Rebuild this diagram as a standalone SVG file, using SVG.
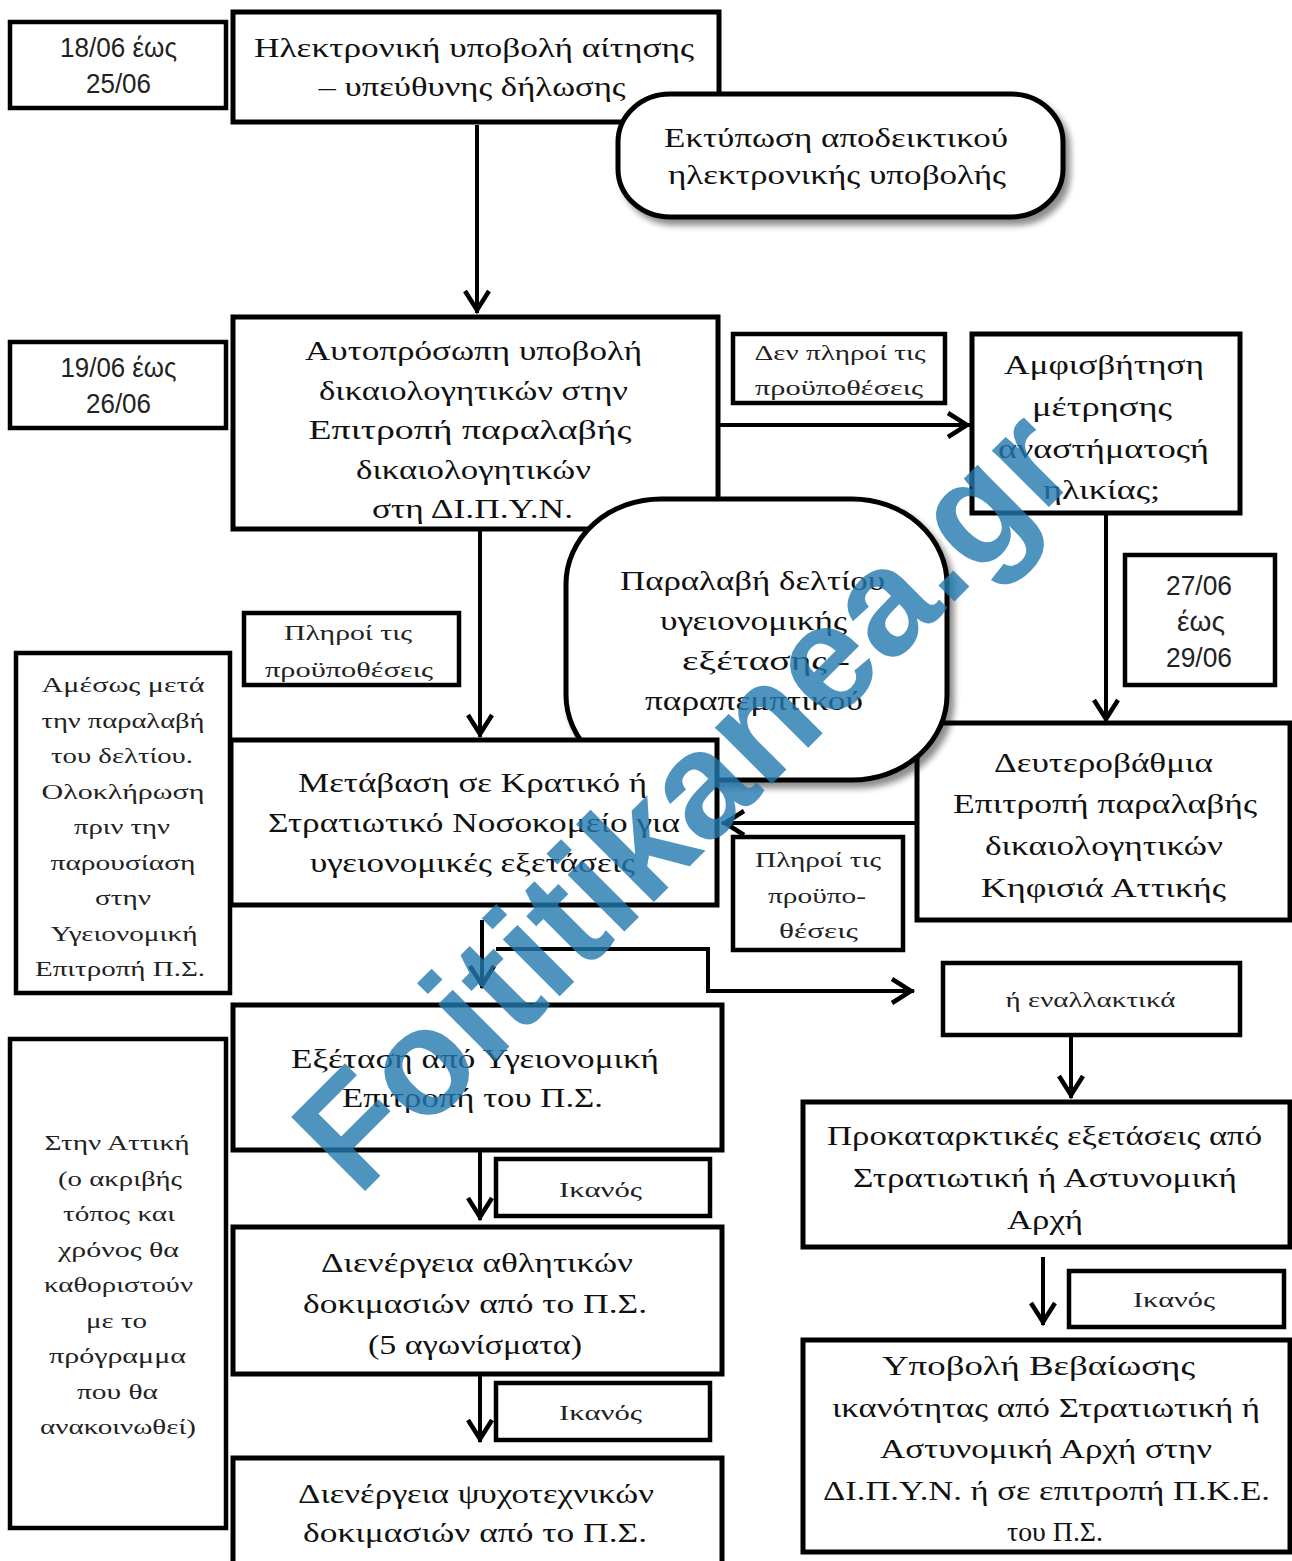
<svg xmlns="http://www.w3.org/2000/svg" width="1292" height="1561" viewBox="0 0 1292 1561">
<defs>
<style>
.box{fill:#fff;stroke:#000;stroke-width:5}
.lbl{fill:#fff;stroke:#000;stroke-width:4.5}
.round{fill:#fff;stroke:#000;stroke-width:5;filter:url(#sh)}
.t{font-family:'Liberation Serif',serif;font-size:28px;text-anchor:middle;fill:#111}
.s{font-family:'Liberation Serif',serif;font-size:22px;text-anchor:middle;fill:#222}
.d{font-family:'Liberation Sans',sans-serif;font-size:27px;text-anchor:middle;fill:#222}
.c{fill:none;stroke:#000;stroke-width:4;marker-end:url(#ah)}
</style>
<filter id="sh" x="-10%" y="-10%" width="130%" height="130%">
<feGaussianBlur in="SourceAlpha" stdDeviation="3"/>
<feOffset dx="5" dy="6" result="o"/>
<feComponentTransfer><feFuncA type="linear" slope="0.45"/></feComponentTransfer>
<feMerge><feMergeNode/><feMergeNode in="SourceGraphic"/></feMerge>
</filter>
<marker id="ah" markerUnits="userSpaceOnUse" markerWidth="30" markerHeight="30" viewBox="-26 -15 30 30" refX="0" refY="0" orient="auto" overflow="visible">
<path d="M-22,-12 L-3,0 L-22,12" fill="none" stroke="#000" stroke-width="4.5"/>
</marker>
</defs>
<rect width="1292" height="1561" fill="#fff"/>

<g id="connectors">
<path class="c" d="M477,125 V313"/>
<path class="c" d="M718,425 H970"/>
<path class="c" d="M1106,513 V722"/>
<path class="c" d="M480,529 V737"/>
<path class="c" d="M916,823 H722"/>
<path class="c" d="M482,920 V988"/>
<path class="c" d="M496,949 H708 V991 H914"/>
<path class="c" d="M1071,1035 V1098"/>
<path class="c" d="M480,1150 V1220"/>
<path class="c" d="M1043,1257 V1325"/>
<path class="c" d="M480,1374 V1442"/>
</g>

<g id="date1">
<rect class="lbl" x="10" y="22" width="216" height="86"/>
<text class="d" x="118.5" y="57" textLength="117" lengthAdjust="spacingAndGlyphs">18/06 έως</text>
<text class="d" x="118.5" y="93" textLength="65" lengthAdjust="spacingAndGlyphs">25/06</text>
</g>
<g id="n-ilektroniki">
<rect class="box" x="233" y="12" width="486" height="110"/>
<text class="t" x="474" y="57" textLength="440" lengthAdjust="spacingAndGlyphs">Ηλεκτρονική υποβολή αίτησης</text>
<text class="t" x="472" y="96" textLength="307" lengthAdjust="spacingAndGlyphs">– υπεύθυνης δήλωσης</text>
</g>
<g id="n-ektyposi">
<rect class="round" x="618" y="94" width="445" height="123" rx="52" ry="48"/>
<text class="t" x="836" y="147" textLength="344" lengthAdjust="spacingAndGlyphs">Εκτύπωση αποδεικτικού</text>
<text class="t" x="837" y="184" textLength="338" lengthAdjust="spacingAndGlyphs">ηλεκτρονικής υποβολής</text>
</g>

<g id="date2">
<rect class="lbl" x="10" y="342" width="216" height="86"/>
<text class="d" x="118.5" y="377" textLength="116" lengthAdjust="spacingAndGlyphs">19/06 έως</text>
<text class="d" x="118.5" y="413" textLength="65" lengthAdjust="spacingAndGlyphs">26/06</text>
</g>
<g id="n-autoprosopi">
<rect class="box" x="233" y="317" width="485" height="212"/>
<text class="t" x="473.5" y="360" textLength="337" lengthAdjust="spacingAndGlyphs">Αυτοπρόσωπη υποβολή</text>
<text class="t" x="473.5" y="400" textLength="309" lengthAdjust="spacingAndGlyphs">δικαιολογητικών στην</text>
<text class="t" x="470" y="439" textLength="323" lengthAdjust="spacingAndGlyphs">Επιτροπή παραλαβής</text>
<text class="t" x="473.5" y="479" textLength="235" lengthAdjust="spacingAndGlyphs">δικαιολογητικών</text>
<text class="t" x="472.5" y="518" textLength="201" lengthAdjust="spacingAndGlyphs">στη ΔΙ.Π.Υ.Ν.</text>
</g>
<g id="l-den-pliroi">
<rect class="lbl" x="733" y="334" width="212" height="69"/>
<text class="s" x="840" y="360" textLength="171" lengthAdjust="spacingAndGlyphs">Δεν πληροί τις</text>
<text class="s" x="839" y="395" textLength="168" lengthAdjust="spacingAndGlyphs">προϋποθέσεις</text>
</g>
<g id="n-amfisvitisi">
<rect class="box" x="972" y="334" width="268" height="179"/>
<text class="t" x="1104" y="374" textLength="200" lengthAdjust="spacingAndGlyphs">Αμφισβήτηση</text>
<text class="t" x="1102" y="416" textLength="140" lengthAdjust="spacingAndGlyphs">μέτρησης</text>
<text class="t" x="1103.5" y="458" textLength="211" lengthAdjust="spacingAndGlyphs">αναστήματοςή</text>
<text class="t" x="1101.5" y="499" textLength="117" lengthAdjust="spacingAndGlyphs">ηλικίας;</text>
</g>
<g id="date3">
<rect class="lbl" x="1125" y="555" width="150" height="130"/>
<text class="d" x="1199" y="595" textLength="66" lengthAdjust="spacingAndGlyphs">27/06</text>
<text class="d" x="1201" y="631" textLength="48" lengthAdjust="spacingAndGlyphs">έως</text>
<text class="d" x="1199" y="667" textLength="66" lengthAdjust="spacingAndGlyphs">29/06</text>
</g>
<g id="n-defterovathmia">
<rect class="box" x="917" y="723" width="373" height="197"/>
<text class="t" x="1103.5" y="772" textLength="219" lengthAdjust="spacingAndGlyphs">Δευτεροβάθμια</text>
<text class="t" x="1105" y="813" textLength="304" lengthAdjust="spacingAndGlyphs">Επιτροπή παραλαβής</text>
<text class="t" x="1104" y="855" textLength="238" lengthAdjust="spacingAndGlyphs">δικαιολογητικών</text>
<text class="t" x="1103.5" y="897" textLength="245" lengthAdjust="spacingAndGlyphs">Κηφισιά Αττικής</text>
</g>
<g id="n-paralavi">
<rect class="round" x="566" y="499" width="381" height="281" rx="95" ry="85"/>
<text class="t" x="752.5" y="590" textLength="265" lengthAdjust="spacingAndGlyphs">Παραλαβή δελτίου</text>
<text class="t" x="753.5" y="630" textLength="187" lengthAdjust="spacingAndGlyphs">υγειονομικής</text>
<text class="t" x="766" y="670" textLength="168" lengthAdjust="spacingAndGlyphs">εξέτασης -</text>
<text class="t" x="754" y="710" textLength="218" lengthAdjust="spacingAndGlyphs">παραπεμπτικού</text>
</g>
<g id="l-pliroi-1">
<rect class="lbl" x="244" y="613" width="215" height="72"/>
<text class="s" x="348" y="640" textLength="128" lengthAdjust="spacingAndGlyphs">Πληροί τις</text>
<text class="s" x="349" y="677" textLength="168" lengthAdjust="spacingAndGlyphs">προϋποθέσεις</text>
</g>
<g id="n-amesos">
<rect class="lbl" x="16" y="653" width="214" height="340"/>
<text class="s" x="123" y="692" textLength="163" lengthAdjust="spacingAndGlyphs">Αμέσως μετά</text>
<text class="s" x="123" y="728" textLength="163" lengthAdjust="spacingAndGlyphs">την παραλαβή</text>
<text class="s" x="122" y="763" textLength="142" lengthAdjust="spacingAndGlyphs">του δελτίου.</text>
<text class="s" x="123" y="799" textLength="163" lengthAdjust="spacingAndGlyphs">Ολοκλήρωση</text>
<text class="s" x="122" y="834" textLength="96" lengthAdjust="spacingAndGlyphs">πριν την</text>
<text class="s" x="123" y="870" textLength="145" lengthAdjust="spacingAndGlyphs">παρουσίαση</text>
<text class="s" x="123" y="905" textLength="56" lengthAdjust="spacingAndGlyphs">στην</text>
<text class="s" x="124" y="941" textLength="147" lengthAdjust="spacingAndGlyphs">Υγειονομική</text>
<text class="s" x="120" y="976" textLength="170" lengthAdjust="spacingAndGlyphs">Επιτροπή Π.Σ.</text>
</g>
<g id="n-metavasi">
<rect class="box" x="231" y="740" width="486" height="165"/>
<text class="t" x="472.5" y="792" textLength="349" lengthAdjust="spacingAndGlyphs">Μετάβαση σε Κρατικό ή</text>
<text class="t" x="474" y="832" textLength="412" lengthAdjust="spacingAndGlyphs">Στρατιωτικό Νοσοκομείο για</text>
<text class="t" x="472.5" y="872" textLength="325" lengthAdjust="spacingAndGlyphs">υγειονομικές εξετάσεις</text>
</g>
<g id="l-pliroi-2">
<rect class="lbl" x="733" y="837" width="170" height="113"/>
<text class="s" x="818" y="867" textLength="126" lengthAdjust="spacingAndGlyphs">Πληροί τις</text>
<text class="s" x="817" y="903" textLength="98" lengthAdjust="spacingAndGlyphs">προϋπο-</text>
<text class="s" x="818.5" y="938" textLength="79" lengthAdjust="spacingAndGlyphs">θέσεις</text>
</g>
<g id="l-enallaktika">
<rect class="lbl" x="943" y="963" width="297" height="72"/>
<text class="s" x="1090.5" y="1007" textLength="170" lengthAdjust="spacingAndGlyphs">ή εναλλακτικά</text>
</g>
<g id="n-prokatarktikes">
<rect class="box" x="803" y="1102" width="487" height="145"/>
<text class="t" x="1044.5" y="1145" textLength="435" lengthAdjust="spacingAndGlyphs">Προκαταρκτικές εξετάσεις από</text>
<text class="t" x="1045" y="1187" textLength="384" lengthAdjust="spacingAndGlyphs">Στρατιωτική ή Αστυνομική</text>
<text class="t" x="1045" y="1229" textLength="76" lengthAdjust="spacingAndGlyphs">Αρχή</text>
</g>
<g id="l-ikanos-3">
<rect class="lbl" x="1069" y="1271" width="215" height="56"/>
<text class="s" x="1174" y="1307" textLength="82" lengthAdjust="spacingAndGlyphs">Ικανός</text>
</g>
<g id="n-ypovoli">
<rect class="box" x="803" y="1340" width="487" height="212"/>
<text class="t" x="1038.5" y="1375" textLength="313" lengthAdjust="spacingAndGlyphs">Υποβολή Βεβαίωσης</text>
<text class="t" x="1046" y="1417" textLength="428" lengthAdjust="spacingAndGlyphs">ικανότητας από Στρατιωτική ή</text>
<text class="t" x="1046" y="1458" textLength="332" lengthAdjust="spacingAndGlyphs">Αστυνομική Αρχή στην</text>
<text class="t" x="1046.5" y="1500" textLength="447" lengthAdjust="spacingAndGlyphs">ΔΙ.Π.Υ.Ν. ή σε επιτροπή Π.Κ.Ε.</text>
<text class="t" x="1055" y="1541" textLength="96" lengthAdjust="spacingAndGlyphs">του Π.Σ.</text>
</g>
<g id="n-attiki">
<rect class="lbl" x="10" y="1039" width="216" height="489"/>
<text class="s" x="117" y="1150" textLength="145" lengthAdjust="spacingAndGlyphs">Στην Αττική</text>
<text class="s" x="120" y="1186" textLength="124" lengthAdjust="spacingAndGlyphs">(ο ακριβής</text>
<text class="s" x="119" y="1221" textLength="112" lengthAdjust="spacingAndGlyphs">τόπος και</text>
<text class="s" x="118.5" y="1257" textLength="121" lengthAdjust="spacingAndGlyphs">χρόνος θα</text>
<text class="s" x="118.5" y="1292" textLength="149" lengthAdjust="spacingAndGlyphs">καθοριστούν</text>
<text class="s" x="116.5" y="1328" textLength="61" lengthAdjust="spacingAndGlyphs">με το</text>
<text class="s" x="117.5" y="1363" textLength="137" lengthAdjust="spacingAndGlyphs">πρόγραμμα</text>
<text class="s" x="117.5" y="1399" textLength="81" lengthAdjust="spacingAndGlyphs">που θα</text>
<text class="s" x="118" y="1434" textLength="156" lengthAdjust="spacingAndGlyphs">ανακοινωθεί)</text>
</g>
<g id="n-exetasi">
<rect class="box" x="233" y="1005" width="489" height="145"/>
<text class="t" x="475" y="1068" textLength="368" lengthAdjust="spacingAndGlyphs">Εξέταση από Υγειονομική</text>
<text class="t" x="472.5" y="1107" textLength="261" lengthAdjust="spacingAndGlyphs">Επιτροπή του Π.Σ.</text>
</g>
<g id="l-ikanos-1">
<rect class="lbl" x="496" y="1159" width="214" height="57"/>
<text class="s" x="600.5" y="1197" textLength="83" lengthAdjust="spacingAndGlyphs">Ικανός</text>
</g>
<g id="n-athlitikes">
<rect class="box" x="233" y="1227" width="489" height="147"/>
<text class="t" x="477" y="1272" textLength="312" lengthAdjust="spacingAndGlyphs">Διενέργεια αθλητικών</text>
<text class="t" x="475" y="1313" textLength="344" lengthAdjust="spacingAndGlyphs">δοκιμασιών  από το Π.Σ.</text>
<text class="t" x="475" y="1354" textLength="214" lengthAdjust="spacingAndGlyphs">(5 αγωνίσματα)</text>
</g>
<g id="l-ikanos-2">
<rect class="lbl" x="496" y="1383" width="214" height="57"/>
<text class="s" x="600.5" y="1420" textLength="83" lengthAdjust="spacingAndGlyphs">Ικανός</text>
</g>
<g id="n-psychotechnikes">
<rect class="box" x="233" y="1458" width="489" height="130"/>
<text class="t" x="476" y="1503" textLength="356" lengthAdjust="spacingAndGlyphs">Διενέργεια ψυχοτεχνικών</text>
<text class="t" x="475" y="1542" textLength="344" lengthAdjust="spacingAndGlyphs">δοκιμασιών  από το Π.Σ.</text>
</g>

<g id="watermark">
<text x="358" y="1198" transform="rotate(-45 358 1198)" font-family="'Liberation Sans',sans-serif" font-weight="bold" font-size="152" fill="#2378af" fill-opacity="0.8" textLength="1025" lengthAdjust="spacingAndGlyphs">Foititikanea.gr</text>
</g>
</svg>
